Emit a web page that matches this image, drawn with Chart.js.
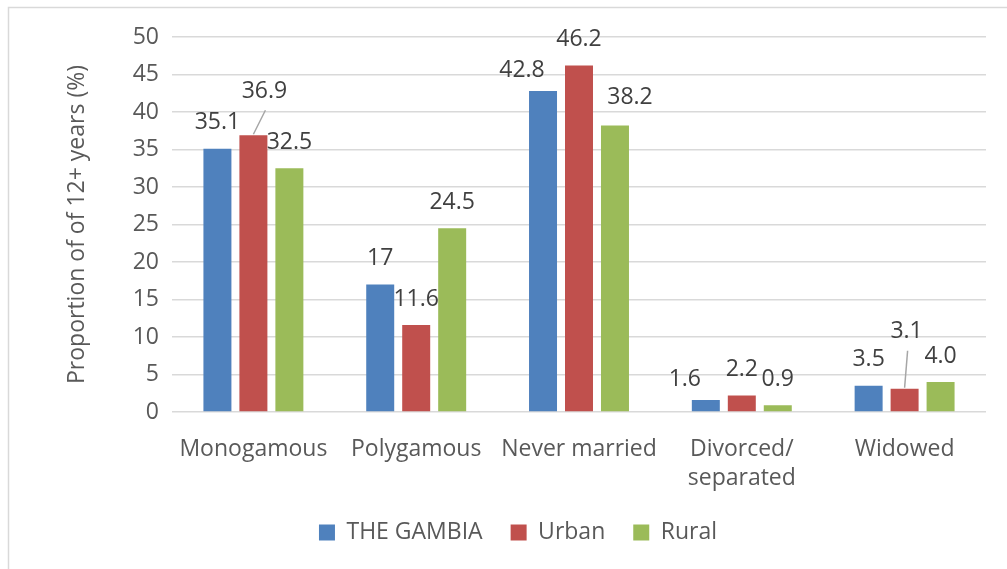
<!DOCTYPE html>
<html>
<head>
<meta charset="utf-8">
<script src="https://cdn.jsdelivr.net/npm/chart.js@4.4.1/dist/chart.umd.min.js"></script>
<style>
  html, body { margin: 0; padding: 0; background: #fff; }
  #wrap { width: 1007px; height: 569px; position: relative; }
</style>
</head>
<body>
<div id="wrap"><canvas id="maritalChart"></canvas></div>
<script>
const categories = ['Monogamous', 'Polygamous', 'Never married', ['Divorced/', 'separated'], 'Widowed'];
const seriesNames = ['THE GAMBIA', 'Urban', 'Rural'];
const gambiaValues = [35.1, 17, 42.8, 1.6, 3.5];
const urbanValues = [36.9, 11.6, 46.2, 2.2, 3.1];
const ruralValues = [32.5, 24.5, 38.2, 0.9, 4.0];
const yAxisTitle = 'Proportion of of 12+ years (%)';

const FONT = 'Open Sans';
const axisColor = '#595959';

// how each series prints its value label
const labelFormats = [v => String(v), v => v.toFixed(1), v => v.toFixed(1)];

// labels that were dragged away from their default place: dataset, index, dx, dy, leader line
const labelNudges = [
    { ds: 0, i: 2, dx: -21, dy: 5 },
    { ds: 0, i: 3, dx: -21, dy: 5 },
    { ds: 1, i: 0, dx: 11, dy: -18, leader: true },
    { ds: 1, i: 4, dx: 2, dy: -31, leader: true },
    { ds: 2, i: 2, dx: 15, dy: -2 }
];

const valueLabels = {
    id: 'valueLabels',
    afterDatasetsDraw(chart) {
        const ctx = chart.ctx;
        ctx.save();
        ctx.font = '23px "' + FONT + '"';
        ctx.textAlign = 'center';
        ctx.textBaseline = 'middle';
        chart.data.datasets.forEach((ds, d) => {
            const meta = chart.getDatasetMeta(d);
            meta.data.forEach((bar, i) => {
                const nudge = labelNudges.find(n => n.ds === d && n.i === i) || { dx: 0, dy: 0 };
                const lx = bar.x + nudge.dx;
                const ly = bar.y - 26 + nudge.dy;
                if (nudge.leader) {
                    ctx.strokeStyle = '#A6A6A6';
                    ctx.lineWidth = 1.5;
                    ctx.beginPath();
                    ctx.moveTo(bar.x, bar.y - 1);
                    ctx.lineTo(lx + 1, ly + 19);
                    ctx.stroke();
                }
                ctx.fillStyle = '#404040';
                ctx.fillText(labelFormats[d](ds.data[i]), lx, ly);
            });
        });
        ctx.restore();
    }
};

const frame = {
    id: 'frame',
    beforeDraw(chart) {
        const ctx = chart.ctx;
        ctx.save();
        ctx.fillStyle = '#ffffff';
        ctx.fillRect(0, 0, chart.width, chart.height);
        ctx.strokeStyle = '#D9D9D9';
        ctx.lineWidth = 1.5;
        ctx.strokeRect(8.5, 7.5, chart.width + 20, chart.height + 20);
        ctx.restore();
    }
};

const ctx = document.getElementById('maritalChart').getContext('2d');
new Chart(ctx, {
    type: 'bar',
    data: {
        labels: categories,
        datasets: [
            { label: seriesNames[0], data: gambiaValues, backgroundColor: '#4F81BD' },
            { label: seriesNames[1], data: urbanValues, backgroundColor: '#C0504D' },
            { label: seriesNames[2], data: ruralValues, backgroundColor: '#9BBB59' }
        ]
    },
    options: {
        responsive: true,
        maintainAspectRatio: false,
        animation: false,
        categoryPercentage: 0.663,
        barPercentage: 0.778,
        layout: { padding: { left: 50, right: 21, top: 37, bottom: 15 } },
        plugins: {
            legend: {
                position: 'bottom',
                labels: {
                    color: axisColor,
                    boxWidth: 16,
                    boxHeight: 16,
                    padding: 28,
                    font: { family: FONT, size: 23 }
                }
            },
            tooltip: { enabled: false }
        },
        scales: {
            x: {
                grid: { display: false },
                border: { display: false },
                ticks: {
                    color: axisColor,
                    padding: 15,
                    maxRotation: 0,
                    font: { family: FONT, size: 23, lineHeight: 1.25 }
                },
                afterFit(scale) { scale.height = 81; }
            },
            y: {
                min: 0,
                max: 50,
                grid: { color: '#D9D9D9', lineWidth: 1.5, drawTicks: false },
                border: { display: false },
                ticks: {
                    stepSize: 5,
                    color: axisColor,
                    padding: 13,
                    font: { family: FONT, size: 23 }
                },
                title: {
                    display: true,
                    text: yAxisTitle,
                    color: axisColor,
                    padding: { top: 14, bottom: 0 },
                    font: { family: FONT, size: 23 }
                },
                afterFit(scale) { scale.width = 122; }
            }
        }
    },
    plugins: [frame, valueLabels]
});
</script>
</body>
</html>
